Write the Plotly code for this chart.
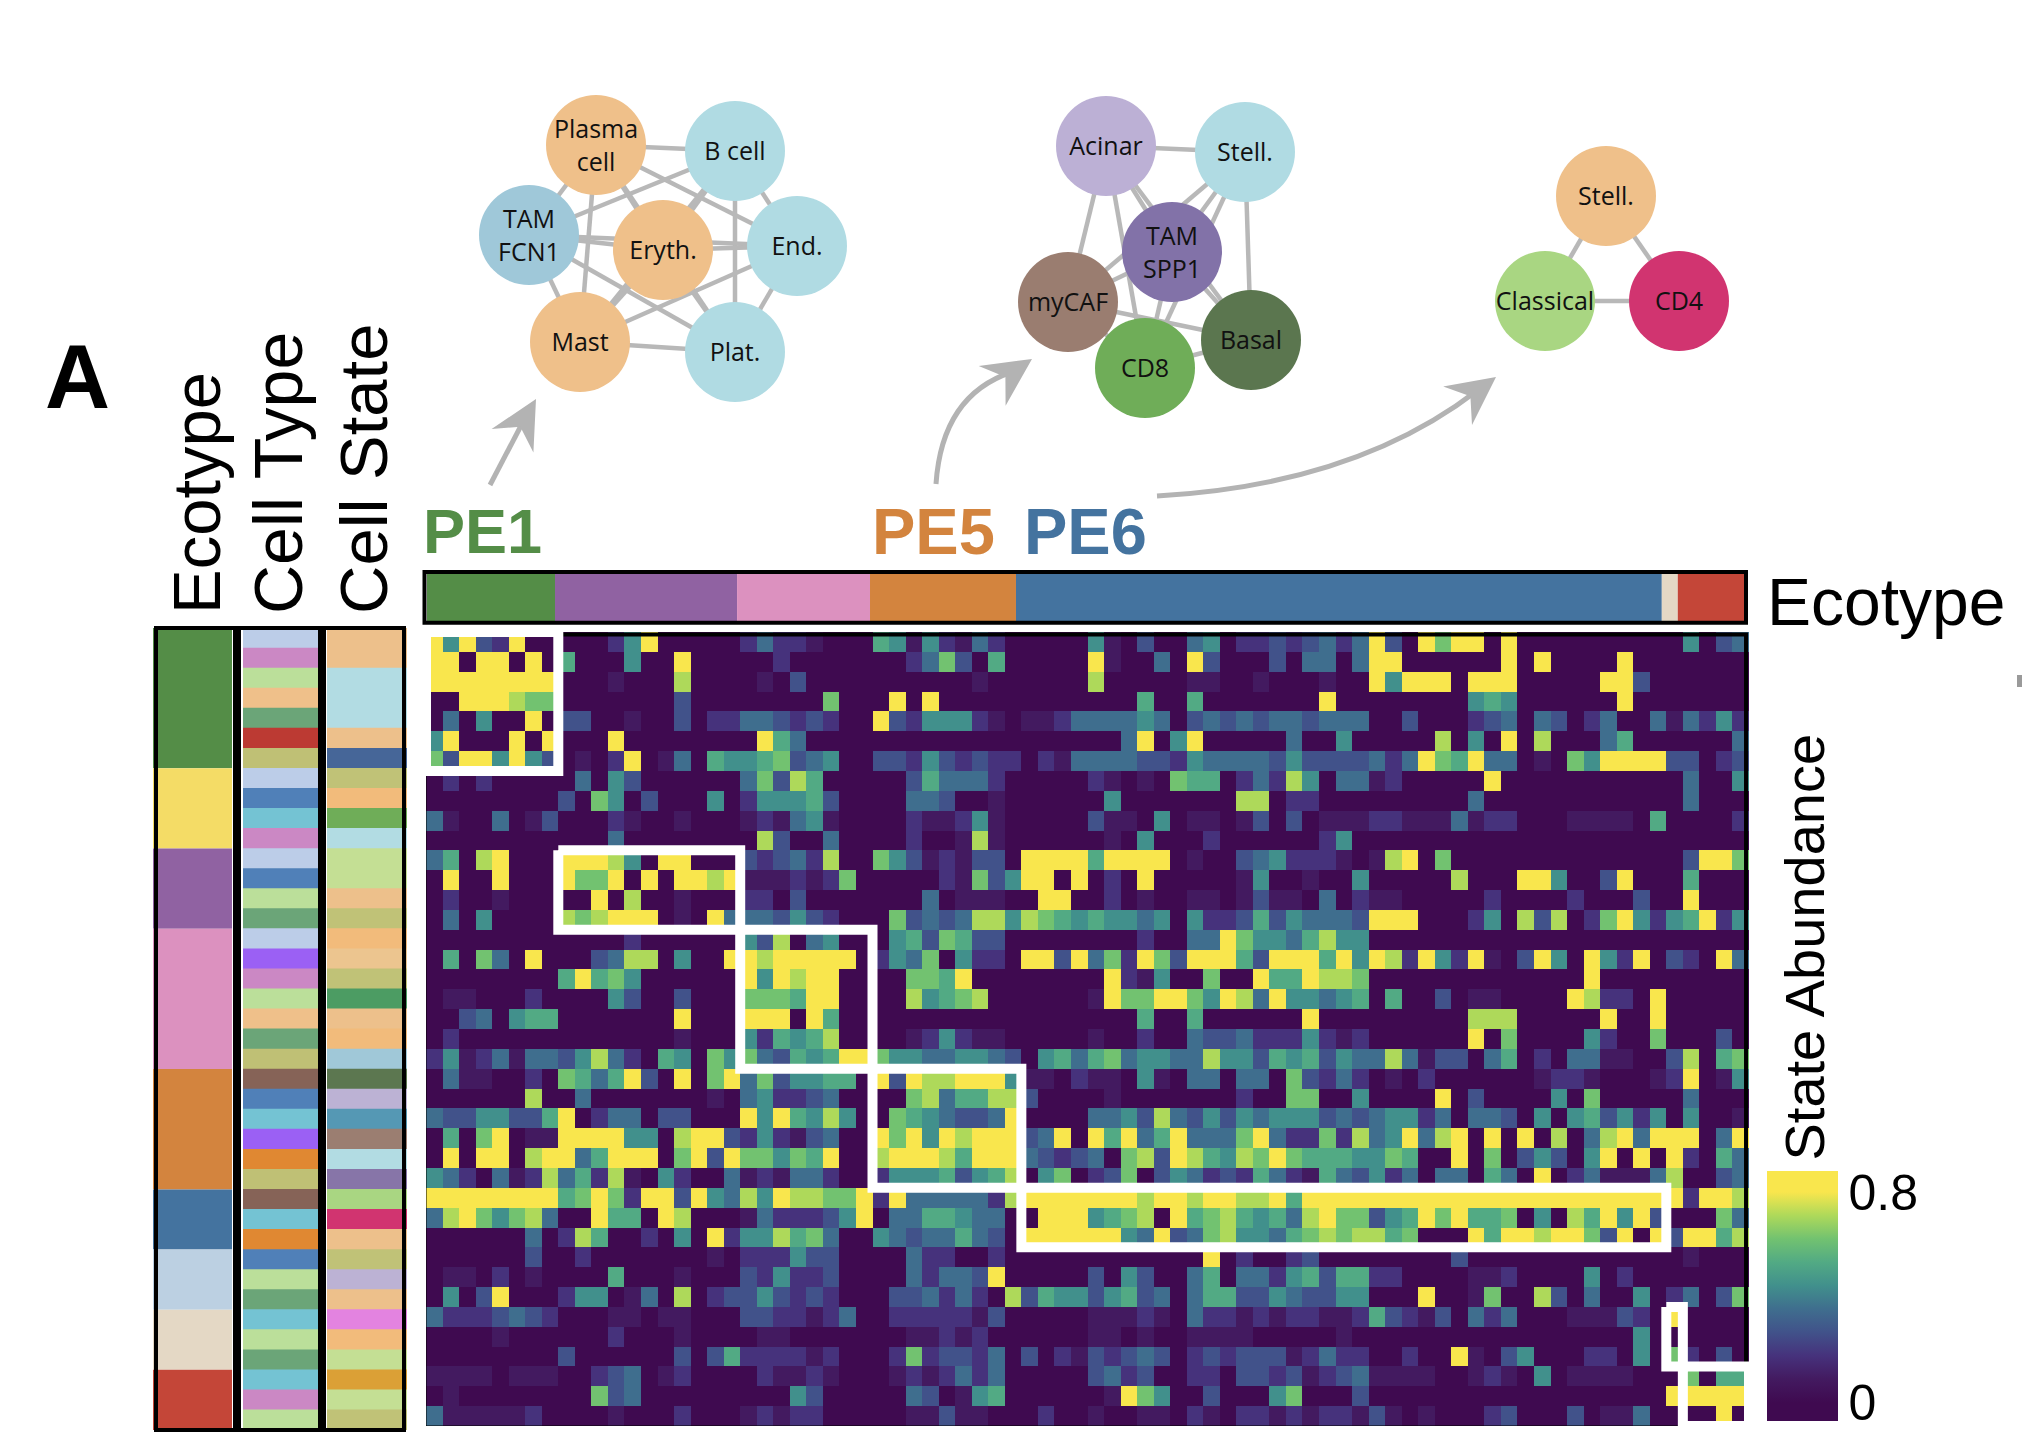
import itertools
import plotly.graph_objects as go

W, H = 2022, 1450

# ---------- data ----------
# Heatmap of state abundance: one string per row, eight cells per group, level 0-9.
LEVEL_MAX_VALUE = 0.8
abundance_levels = [
    "95932900 00025900 00024221 00065152 14200000 51030045 02232342 49309799 09000000 00005034",
    "99099090 60005009 00000200 00000247 30600000 91004093 00030440 49900000 09090000 90000000",
    "99999999 00010008 00001030 00000000 01000000 80000011 00100010 09599909 99000009 93000000",
    "00999877 00000003 00000000 70009090 00000000 00060060 00000090 00000005 65000000 90000000",
    "04050090 33001003 02244323 20093255 52101124 44454034 34344344 40030002 34043024 00414252",
    "59000909 00090000 00009640 00000000 00000000 00490590 00004005 00000805 09080004 60000004",
    "73995953 01029014 06556734 50033253 23220214 44433254 44435333 34249769 44010759 99933023",
    "02020000 04053000 00047386 00000364 44200000 21010766 02428504 41200000 90000000 00004005",
    "00000000 30750300 05025556 30000443 00100000 05000000 08802200 00000004 00000000 00004000",
    "41004013 00021001 00012145 10000211 25100000 31105011 01303011 12211141 22000111 10600002",
    "00000000 00040000 00008300 40000200 18100000 01050002 00000025 00000000 00000000 00000000",
    "46089000 99985099 00032342 80075312 13309999 69999010 03452221 01890700 00000000 00003997",
    "09009000 97790909 98911121 27000002 17359909 02090000 01500100 50000080 00995003 90006000",
    "02001000 00908001 00022030 00000040 11100990 02010011 01311040 21100000 20000200 03009000",
    "04050000 87899901 09444353 20007343 48858765 65545052 23635444 39990002 50838027 95256925",
    "00000000 00002000 00053804 50005637 63300000 00020044 97554685 50000000 00000000 00000000",
    "06074090 00348805 00998999 99025470 52209939 47297399 96399969 59829529 10395095 29032094",
    "00000000 69675000 00095989 90000776 90000000 09215007 00966988 70000000 00000090 00000000",
    "01100020 00053003 00077769 90000856 78000000 19779975 98495545 60600301 10000982 20900000",
    "00340566 00000009 00099909 60000000 00000000 00060060 00000900 00000008 88000009 00900000",
    "02000000 00000001 00052656 80000125 21100000 10020043 34222521 20000009 07000052 00700030",
    "25124144 35842065 07574365 69975544 55430564 67455448 55365635 44841330 46020441 10038067",
    "04110020 76469309 07947355 66093988 99951102 11051044 04407324 20102000 00012210 00129015",
    "00000080 04000000 01045223 40000784 66883000 01000000 02007700 50000903 00005070 00004000",
    "43355336 90244033 00095965 85007654 33490000 44538435 35455534 34552404 43050563 52505001",
    "06079011 99995508 99325213 40097959 89993490 96946944 47942272 84594890 90908048 94999049",
    "09099089 94699907 93977576 90089998 69994323 40783986 58797666 55760090 70353059 09092064",
    "54204128 46281052 00412144 20025556 35680570 23703542 32642164 35240440 64090241 11480034",
    "99999999 67972993 95485988 77929444 44289999 99989989 98896999 99999999 99999999 99992998",
    "48975784 00966098 00014222 35904466 54400999 56780967 86564897 73569796 67050869 59300074",
    "00000040 28600205 09255867 40054344 64309999 99549347 85546787 88670009 69989973 90939968",
    "00000030 02000000 01022253 30000422 00200000 00000009 02002300 00000030 00000000 00001000",
    "01102010 00060001 00032522 30000424 43900000 30530046 04425636 62200001 12000050 20000000",
    "05039000 25501408 02335323 20003342 42083655 35634046 63354335 50009001 70083040 05024037",
    "42223432 00011011 00033221 24002222 21300000 11121042 21212211 26321304 24000111 32090000",
    "00001000 00020001 00001100 00000112 12000000 11010011 11000001 00000000 00000000 05000000",
    "00000000 30000003 03622221 20002723 32403021 32343023 23331242 20020091 03500022 05072030",
    "11110111 00234012 00002112 10001212 42400000 34230022 03323123 41111001 21050111 10007066",
    "01000000 00734000 00000053 00000430 15600000 01975003 00057000 30000000 00000000 00099999",
    "41111120 00010002 00012122 00000113 11000200 10011021 02212122 13101000 23000301 14000090",
]

ecotype_state_counts = [7, 4, 4, 7, 6, 3, 3, 3, 3]
ecotype_row_colors = ["#548d47", "#f4dc66", "#9062a2", "#dc91bf", "#d3843e", "#44739f", "#bcd0e2", "#e4d8c5", "#c44638"]

column_ecotype_widths = [7.77, 11.05, 8.07, 8.86, 39.2, 0.97, 4.07]
column_ecotype_colors = ["#548d47", "#9062a2", "#dc91bf", "#d3843e", "#44739f", "#e4d8c5", "#c44638"]

LAV, PNK, LGR, LOR, GRN, RED, OLV = "#bccde8", "#cb88c4", "#bbdf9a", "#efc08a", "#6ba578", "#bc3a33", "#bfc075"
BLU, CYN, VIO, BRN, ORG = "#5080b8", "#74c3d3", "#9b60f4", "#866357", "#e08832"
cell_type_colors = [
    LAV, PNK, LGR, LOR, GRN, RED, OLV, LAV, BLU, CYN, PNK, LAV, BLU, LGR, GRN, LAV, VIO, PNK, LGR, LOR,
    GRN, OLV, BRN, BLU, CYN, VIO, ORG, OLV, BRN, CYN, ORG, BLU, LGR, GRN, CYN, LGR, GRN, CYN, PNK, LGR,
]

SLO, SCY, SOL, SOR, SPG = "#edc08b", "#b2dce3", "#c0c277", "#f2bb7b", "#c4df94"
cell_state_colors = [
    SLO, SLO, SCY, SCY, SCY, SLO, "#466698", SOL, SOR, "#6fad58", SCY, SPG, SPG, SLO, SOL, SOR, "#ecc58f", SOL,
    "#4c9c63", SLO, SOR, "#a0c8d8", "#5c7750", "#bcb2d4", "#5598b4", "#9b7e71", SCY, "#8775a8", "#a9d682", "#d13470",
    SLO, SOL, "#bcb2d4", SLO, "#e383e0", SOR, SPG, "#dba036", SPG, SOL,
]

# Ecotype boxes on the heatmap: cell edges (left, right, top, bottom)
box_left = [0, 8, 19, 27, 36, 75, 76]
box_right = [8, 19, 27, 36, 75, 76, 80]
box_top = [0, 11, 15, 22, 28, 34, 37]
box_bottom = [7, 15, 22, 28, 31, 37, 40]

# Co-occurrence networks
net_labels = [
    ["Plasma<br>cell", "B cell", "TAM<br>FCN1", "Eryth.", "End.", "Mast", "Plat."],
    ["Acinar", "Stell.", "TAM<br>SPP1", "myCAF", "Basal", "CD8"],
    ["Stell.", "Classical", "CD4"],
]
net_x = [
    [596, 735, 529, 663, 797, 580, 735],
    [1106, 1245, 1172, 1068, 1251, 1145],
    [1606, 1545, 1679],
]
net_y = [
    [145, 151, 235, 250, 246, 342, 352],
    [146, 152, 252, 302, 340, 368],
    [196, 301, 301],
]
net_colors = [
    ["#efc08a", "#b0dbe3", "#9fc8d9", "#efc08a", "#b0dbe3", "#efc08a", "#b0dbe3"],
    ["#bcb0d5", "#b0dbe3", "#8272a8", "#9a7d70", "#5b764f", "#6fad58"],
    ["#efc08a", "#a9d682", "#d13470"],
]
NODE_SIZE = 100
LABEL_DROP = 3

# ---------- helpers ----------
def dx(a, b):
    return [a / W, b / W]

def dy(top, bottom):
    return [1 - bottom / H, 1 - top / H]

hidden = dict(visible=False, showgrid=False, zeroline=False, fixedrange=True)

values = [[int(c) * LEVEL_MAX_VALUE / 9 for c in row.replace(" ", "")] for row in abundance_levels]
assert all(len(r) == 80 for r in values) and len(values) == 40

ZMIN, ZMAX = -0.07, 0.88
level_colors = ["#3f0a50", "#431a60", "#46327c", "#41528a", "#3f6e8e", "#41908c", "#52aa84", "#72c270", "#aed95a", "#f9e64d"]
colorscale = [[0, level_colors[0]]]
for i, c in enumerate(level_colors):
    colorscale.append([(i * LEVEL_MAX_VALUE / 9 - ZMIN) / (ZMAX - ZMIN), c])
colorscale.append([1, level_colors[-1]])

fig = go.Figure()

fig.add_trace(go.Heatmap(
    z=values, xaxis="x", yaxis="y", zmin=ZMIN, zmax=ZMAX, colorscale=colorscale, zsmooth=False,
    hoverinfo="skip",
    colorbar=dict(
        x=1767 / W, xanchor="left", y=(H - 1421) / H, yanchor="bottom",
        lenmode="pixels", len=250, thicknessmode="pixels", thickness=71,
        xpad=0, ypad=0, outlinewidth=0, ticks="", tickmode="array", tickvals=[0, 0.8],
        ticktext=["0", "0.8"], tickfont=dict(family="Liberation Sans", size=50, color="black"),
    ),
))

# black frame round the heatmap, then the white ecotype boxes over it
fx0, fx1, fy0, fy1 = -0.59, 79.32, -0.374, 39.57
fig.add_trace(go.Scatter(x=[fx0, fx1, fx1, fx0, fx0], y=[fy0, fy0, fy1, fy1, fy0], mode="lines",
                         xaxis="x", yaxis="y", cliponaxis=False, line=dict(color="black", width=4),
                         hoverinfo="skip", showlegend=False))
bx, by = [], []
for l, r, t, b in zip(box_left, box_right, box_top, box_bottom):
    bx += [l - .5, r - .5, r - .5, l - .5, l - .5, None]
    by += [t - .5, t - .5, b - .5, b - .5, t - .5, None]
fig.add_trace(go.Scatter(x=bx, y=by, mode="lines", xaxis="x", yaxis="y", cliponaxis=False,
                         line=dict(color="white", width=10), hoverinfo="skip", showlegend=False))

# top ecotype bar
bases = [sum(column_ecotype_widths[:i]) for i in range(len(column_ecotype_widths))]
fig.add_trace(go.Bar(x=column_ecotype_widths, base=bases, y=[0] * len(bases), orientation="h", width=1,
                     marker=dict(color=column_ecotype_colors, line_width=0), xaxis="x2", yaxis="y2",
                     hoverinfo="skip", showlegend=False))

# left strips
eco_bases = [sum(ecotype_state_counts[:i]) for i in range(len(ecotype_state_counts))]
fig.add_trace(go.Bar(x=[0] * len(eco_bases), y=ecotype_state_counts, base=eco_bases, width=1,
                     marker=dict(color=ecotype_row_colors, line_width=0), xaxis="x4", yaxis="y4",
                     hoverinfo="skip", showlegend=False))
rows = list(range(40))
for colors, xa, ya in [(cell_type_colors, "x5", "y5"), (cell_state_colors, "x6", "y6")]:
    fig.add_trace(go.Bar(x=[1] * 40, y=rows, orientation="h", width=1.04, marker=dict(color=colors, line_width=0),
                         xaxis=xa, yaxis=ya, hoverinfo="skip", showlegend=False))

# networks
for labels, xs, ys, cols in zip(net_labels, net_x, net_y, net_colors):
    ex, ey = [], []
    for i, j in itertools.combinations(range(len(xs)), 2):
        ex += [xs[i], xs[j], None]
        ey += [ys[i], ys[j], None]
    fig.add_trace(go.Scatter(x=ex, y=ey, mode="lines", xaxis="x3", yaxis="y3",
                             line=dict(color="#b8b8b8", width=4.5), hoverinfo="skip", showlegend=False))
    fig.add_trace(go.Scatter(x=xs, y=ys, mode="markers", xaxis="x3", yaxis="y3",
                             marker=dict(size=NODE_SIZE, color=cols, line_width=0), cliponaxis=False,
                             hoverinfo="skip", showlegend=False))
    fig.add_trace(go.Scatter(x=xs, y=[v + LABEL_DROP for v in ys], mode="text", text=labels,
                             textposition="middle center", xaxis="x3", yaxis="y3",
                             textfont=dict(family="Open Sans", size=25, color="#111111"),
                             hoverinfo="skip", showlegend=False))

# ---------- shapes ----------
shapes = []
for x0, x1, y0, y1 in [(156, 235, 628, 1430), (239, 320, 628, 1430), (324, 404, 628, 1430), (424.5, 1746, 572, 622.7)]:
    shapes.append(dict(type="rect", xref="x3", yref="y3", x0=x0, x1=x1, y0=y0, y1=y1,
                       line=dict(color="black", width=4), fillcolor="rgba(0,0,0,0)", layer="above"))
shapes.append(dict(type="rect", xref="x3", yref="y3", x0=2017, x1=2022, y0=675, y1=687,
                   line_width=0, fillcolor="#9a9a9a", layer="above"))

ARROW = "#b3b3b3"
def arrow(path, tip, ux, uy):
    shapes.append(dict(type="path", xref="x3", yref="y3", path=path, line=dict(color=ARROW, width=5), layer="above"))
    L, hw, n = 48, 24, 32
    tx, ty = tip
    bx_, by_ = tx - ux * L, ty - uy * L
    nx_, ny_ = tx - ux * n, ty - uy * n
    pts = [(tx, ty), (bx_ - uy * hw, by_ + ux * hw), (nx_, ny_), (bx_ + uy * hw, by_ - ux * hw)]
    shapes.append(dict(type="path", xref="x3", yref="y3", layer="above", fillcolor=ARROW, line_width=0,
                       path="M " + " L ".join(f"{a:.1f},{b:.1f}" for a, b in pts) + " Z"))

arrow("M 490,485 L 525,418", (536, 399), 0.49, -0.87)
arrow("M 936,484 Q 942,395 1012,372", (1032, 359), 0.83, -0.56)
arrow("M 1157,496 Q 1355,485 1478,390", (1496, 377), 0.80, -0.60)

# ---------- text ----------
def label(text, x, y, size, color="black", bold=False, angle=0, xanchor="center", yanchor="middle"):
    t = f"<b>{text}</b>" if bold else text
    return dict(text=t, x=x, y=y, xref="x3", yref="y3", showarrow=False, xanchor=xanchor, yanchor=yanchor,
                textangle=angle, font=dict(family="Liberation Sans", size=size, color=color))

annotations = [
    label("A", 77, 377, 90, bold=True),
    label("PE1", 421, 531, 63, "#548d47", bold=True, xanchor="left"),
    label("PE5", 870, 531, 65, "#d3843e", bold=True, xanchor="left"),
    label("PE6", 1022, 531, 65, "#44739f", bold=True, xanchor="left"),
    label("Ecotype", 1765, 602, 66, xanchor="left"),
    label("Ecotype", 196, 616, 67, angle=-90, yanchor="bottom"),
    label("Cell Type", 278, 616, 68, angle=-90, yanchor="bottom"),
    label("Cell State", 363, 616, 67, angle=-90, yanchor="bottom"),
    label("State Abundance", 1804, 1163, 56, angle=-90, yanchor="bottom"),
]

fig.update_layout(
    width=W, height=H, margin=dict(l=0, r=0, t=0, b=0), paper_bgcolor="white", plot_bgcolor="rgba(0,0,0,0)",
    showlegend=False, barmode="overlay", shapes=shapes, annotations=annotations,
    xaxis=dict(hidden, domain=dx(426, 1749), range=[-0.5, 79.5]),
    yaxis=dict(hidden, domain=dy(632, 1426), range=[39.5, -0.5]),
    xaxis2=dict(hidden, domain=dx(427, 1745), range=[0, 80]),
    yaxis2=dict(hidden, domain=dy(572, 623), range=[-0.5, 0.5]),
    xaxis3=dict(hidden, domain=[0, 1], range=[0, W]),
    yaxis3=dict(hidden, domain=[0, 1], range=[H, 0]),
    xaxis4=dict(hidden, domain=dx(153, 232), range=[-0.5, 0.5]),
    yaxis4=dict(hidden, domain=dy(628, 1430), range=[40, 0]),
    xaxis5=dict(hidden, domain=dx(243, 323), range=[0, 1]),
    yaxis5=dict(hidden, domain=dy(628, 1430), range=[39.5, -0.5]),
    xaxis6=dict(hidden, domain=dx(327, 407), range=[0, 1]),
    yaxis6=dict(hidden, domain=dy(628, 1430), range=[39.5, -0.5]),
)

fig.write_html("out.html", config=dict(displayModeBar=False),
               post_script="document.body.style.margin='0';document.body.style.overflow='hidden';")
